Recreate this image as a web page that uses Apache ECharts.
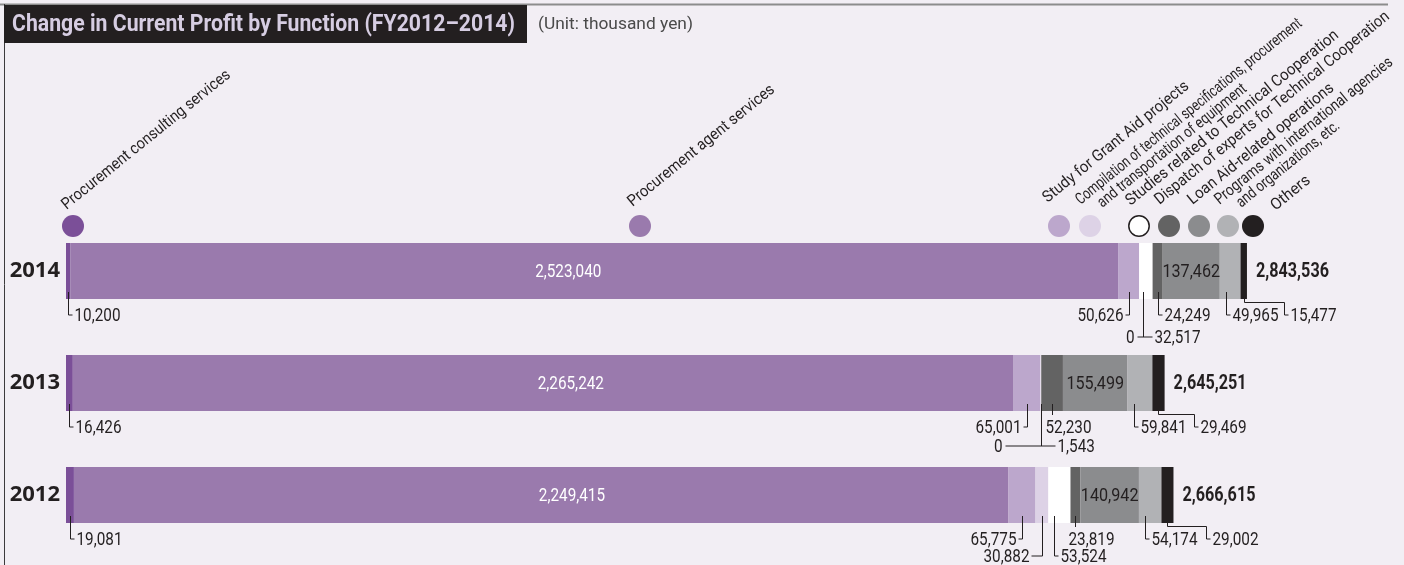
<!DOCTYPE html>
<html>
<head>
<meta charset="utf-8">
<title>Change in Current Profit by Function (FY2012–2014)</title>
<script src="https://cdn.jsdelivr.net/npm/echarts@6/dist/echarts.min.js"></script>
<style>
    html, body { margin: 0; padding: 0; background: #f2eef4; }
    #chart { width: 1404px; height: 565px; }
</style>
</head>
<body>
<div id="chart"></div>
<script>
    'use strict'

    /* Chart data (thousand yen), rows are 2014, 2013, 2012 */
    var years = ['2014', '2013', '2012'];
    var functions = [
        'Procurement consulting services',
        'Procurement agent services',
        'Study for Grant Aid projects',
        'Compilation of technical specifications, procurement and transportation of equipment',
        'Studies related to Technical Cooperation',
        'Dispatch of experts for Technical Cooperation',
        'Loan Aid-related operations',
        'Programs with international agencies and organizations, etc.',
        'Others'
    ];
    var consulting = [10200, 16426, 19081];
    var agent = [2523040, 2265242, 2249415];
    var grantStudy = [50626, 65001, 65775];
    var compilation = [0, 0, 30882];
    var tcStudies = [32517, 1543, 53524];
    var experts = [24249, 52230, 23819];
    var loanAid = [137462, 155499, 140942];
    var programs = [49965, 59841, 54174];
    var others = [15477, 29469, 29002];
    var totals = [2843536, 2645251, 2666615];

    var seriesValues = [consulting, agent, grantStudy, compilation, tcStudies, experts, loanAid, programs, others];
    var colors = ['#7b4f98', '#9a7aad', '#bca7cc', '#ddd2e6', '#ffffff', '#636363', '#8b8c8e', '#b1b2b5', '#231f20'];

    var INK = '#231f20';
    var FONT = "Roboto, 'Noto Sans', sans-serif";
    var BAR_H = 56;
    var TITLE = 'Change in Current Profit by Function (FY2012–2014)';
    var UNIT = '(Unit: thousand yen)';

    /* no condensed face is installed, so text is squeezed horizontally to the original's widths */
    var measureCtx = document.createElement('canvas').getContext('2d');
    function textWidth(str, font) {
        measureCtx.font = font;
        return measureCtx.measureText(str).width;
    }
    var NUM_FONT = '18px ' + FONT;
    var NUM_SX = 46 / textWidth('10,200', NUM_FONT);
    var TOTAL_FONT = 'bold 20px ' + FONT;
    var TOTAL_SX = 73 / textWidth('2,843,536', TOTAL_FONT);
    var LEG_FONT = '16px ' + FONT;
    var TITLE_FONT = 'bold 24px ' + FONT;
    var TITLE_SX = 503 / textWidth(TITLE, TITLE_FONT);
    var UNIT_FONT = '17px ' + FONT;
    var UNIT_SX = 155 / textWidth(UNIT, UNIT_FONT);
    var LEG_ANGLE = 39 * Math.PI / 180;

    /* legend labels, split where the original breaks lines, with each line's length */
    var legendLines = [
        ['Procurement consulting services'],
        ['Procurement agent services'],
        ['Study for Grant Aid projects'],
        ['Compilation of technical specifications, procurement', 'and transportation of equipment'],
        ['Studies related to Technical Cooperation'],
        ['Dispatch of experts for Technical Cooperation'],
        ['Loan Aid-related operations'],
        ['Programs with international agencies', 'and organizations, etc.'],
        ['Others']
    ];
    var legendLens = [[212], [184], [183], [286, 187], [269], [297], [183], [224, 128], [46]];
    var legendSpots = [
        { cx: 73, tx: 69, ty: 213 },
        { cx: 640, tx: 635, ty: 210 },
        { cx: 1059, tx: 1050, ty: 206 },
        { cx: 1090, tx: 1083, ty: 208 },
        { cx: 1139, tx: 1133, ty: 209 },
        { cx: 1169, tx: 1162, ty: 208 },
        { cx: 1199, tx: 1195, ty: 208 },
        { cx: 1228, tx: 1222, ty: 208 },
        { cx: 1253, tx: 1278, ty: 214 }
    ];

    /* leader-line callouts under the bars */
    var callouts = [
        { year: 0, fn: 0, kind: 'R' },
        { year: 0, fn: 2, kind: 'L' },
        { year: 0, fn: 4, kind: 'B', pair: 3, dy: 38, left: 6, right: 9 },
        { year: 0, fn: 5, kind: 'R' },
        { year: 0, fn: 7, kind: 'R' },
        { year: 0, fn: 8, kind: 'S', step: 40 },
        { year: 1, fn: 0, kind: 'R' },
        { year: 1, fn: 2, kind: 'L' },
        { year: 1, fn: 4, kind: 'B', pair: 3, dy: 35, left: 36, right: 14 },
        { year: 1, fn: 5, kind: 'T' },
        { year: 1, fn: 7, kind: 'R' },
        { year: 1, fn: 8, kind: 'S', step: 36 },
        { year: 2, fn: 0, kind: 'R' },
        { year: 2, fn: 2, kind: 'L' },
        { year: 2, fn: 3, kind: 'L', dy: 33, reach: 11 },
        { year: 2, fn: 4, kind: 'R', dy: 33 },
        { year: 2, fn: 5, kind: 'T' },
        { year: 2, fn: 7, kind: 'R' },
        { year: 2, fn: 8, kind: 'S', step: 39 }
    ];

    /* labels drawn on / beside the bars */
    var barTexts = [];
    years.forEach(function (y, i) {
        barTexts.push({ year: i, fn: 1, kind: 'fixed' });
        barTexts.push({ year: i, fn: 6, kind: 'center' });
        barTexts.push({ year: i, fn: 8, kind: 'total' });
    });

    function fmt(v) {
        return v.toLocaleString('en-US');
    }

    function startOf(y, fn) {
        var s = 0;
        for (var k = 0; k < fn; k++) s += seriesValues[k][y];
        return s;
    }

    function textEl(str, x, y, align, opt) {
        opt = opt || {};
        return {
            type: 'text',
            x: x, y: y,
            scaleX: opt.sx || NUM_SX,
            style: {
                text: str, x: 0, y: 0,
                font: opt.font || NUM_FONT,
                fill: opt.fill || INK,
                align: align, textAlign: align,
                verticalAlign: opt.va || 'middle', textVerticalAlign: opt.va || 'middle'
            }
        };
    }

    function lineEl(points) {
        return {
            type: 'polyline',
            shape: { points: points },
            style: { stroke: INK, lineWidth: 1, fill: null }
        };
    }

    function renderCallout(params, api) {
        var c = callouts[params.dataIndex];
        var p0 = api.coord([api.value(1), api.value(0)]);
        var p1 = api.coord([api.value(2), api.value(0)]);
        var w = p1[0] - p0[0];
        var bottom = Math.round(p0[1] + BAR_H / 2);
        var top = bottom - 7;
        var ly = c.dy ? bottom + c.dy : bottom + 16;
        var label = fmt(seriesValues[c.fn][c.year]);
        var reach = c.reach || 4;
        var x, items = [];

        if (c.kind === 'R') {
            x = Math.round(p0[0] + Math.min(w / 2, 6)) + 0.5;
            items.push(lineEl([[x, top], [x, ly], [x + reach, ly]]));
            items.push(textEl(label, x + reach + 2, ly + 1, 'left'));
        } else if (c.kind === 'L') {
            x = Math.round(p0[0] + w / 2) + 0.5;
            items.push(lineEl([[x, top], [x, ly], [x - reach, ly]]));
            items.push(textEl(label, x - reach - 2, ly + 1, 'right'));
        } else if (c.kind === 'T') {
            x = Math.round(p0[0] + w / 2) + 0.5;
            items.push(lineEl([[x, top], [x, bottom + 4]]));
            items.push(textEl(label, x - 7, ly + 1, 'left'));
        } else if (c.kind === 'B') {
            x = Math.round(p0[0] + Math.min(w / 2, 4)) + 0.5;
            items.push(lineEl([[x, top], [x, ly]]));
            items.push(lineEl([[x - c.left, ly], [x + c.right, ly]]));
            items.push(textEl(fmt(seriesValues[c.pair][c.year]), x - c.left - 3, ly + 1, 'right'));
            items.push(textEl(label, x + c.right + 2, ly + 1, 'left'));
        } else if (c.kind === 'S') {
            x = Math.round(p0[0] + w / 2) + 0.5;
            var sx = x + c.step;
            var ky = bottom + 3.5;
            items.push(lineEl([[x, bottom - 2], [x, ky], [sx, ky], [sx, ly], [sx + 4, ly]]));
            items.push(textEl(label, sx + 6, ly + 1, 'left'));
        }
        return { type: 'group', children: items };
    }

    function renderBarText(params, api) {
        var t = barTexts[params.dataIndex];
        var p0 = api.coord([api.value(1), api.value(0)]);
        var p1 = api.coord([api.value(2), api.value(0)]);
        var cy = p0[1] + 1;
        if (t.kind === 'fixed') {
            return textEl(fmt(seriesValues[t.fn][t.year]), p0[0] + 498, cy, 'center', { fill: '#ffffff' });
        }
        if (t.kind === 'center') {
            return textEl(fmt(seriesValues[t.fn][t.year]), (p0[0] + p1[0]) / 2, cy, 'center', { font: '19px ' + FONT });
        }
        return textEl(fmt(totals[t.year]), p1[0] + 9, cy, 'left', { font: TOTAL_FONT, sx: TOTAL_SX });
    }

    /* legend: dots with slanted names */
    var legendGraphics = [];
    legendLines.forEach(function (lines, i) {
        var spot = legendSpots[i];
        legendGraphics.push({
            type: 'circle',
            shape: { cx: spot.cx, cy: 226, r: i === 4 ? 10.2 : 11 },
            style: { fill: colors[i], stroke: i === 4 ? INK : null, lineWidth: 1.5 }
        });
        legendGraphics.push({
            type: 'group',
            x: spot.tx,
            y: spot.ty,
            rotation: LEG_ANGLE,
            children: lines.map(function (ln, j) {
                return {
                    type: 'text',
                    x: j * 15,
                    y: j * 16,
                    scaleX: legendLens[i][j] / textWidth(ln, LEG_FONT),
                    style: {
                        text: ln, x: 0, y: 0, font: LEG_FONT, fill: INK,
                        align: 'left', textAlign: 'left',
                        verticalAlign: 'bottom', textVerticalAlign: 'bottom'
                    }
                };
            })
        });
    });

    var series = seriesValues.map(function (vals, i) {
        return {
            name: functions[i],
            type: 'bar',
            stack: 'total',
            barWidth: BAR_H,
            silent: true,
            itemStyle: { color: colors[i] },
            data: vals
        };
    });

    series.push({
        type: 'custom',
        name: 'barTexts',
        silent: true,
        clip: false,
        z: 5,
        renderItem: renderBarText,
        encode: { x: [1, 2], y: 0 },
        data: barTexts.map(function (t) {
            var s = startOf(t.year, t.fn);
            return [t.year, s, s + seriesValues[t.fn][t.year]];
        })
    });

    series.push({
        type: 'custom',
        name: 'callouts',
        silent: true,
        clip: false,
        z: 5,
        renderItem: renderCallout,
        encode: { x: [1, 2], y: 0 },
        data: callouts.map(function (c) {
            var s = startOf(c.year, c.fn);
            return [c.year, s, s + seriesValues[c.fn][c.year]];
        })
    });

    var chart = echarts.init(document.getElementById('chart'), null, { renderer: 'canvas' });

    chart.setOption({
        backgroundColor: '#f2eef4',
        animation: false,
        grid: {
            left: 66, right: 9, top: 215, height: 336,
            containLabel: false, outerBoundsMode: 'none'
        },
        xAxis: {
            type: 'value', min: 0, max: 3200000, show: false
        },
        yAxis: {
            type: 'category',
            data: years,
            inverse: true,
            axisLine: { show: false },
            axisTick: { show: false },
            splitLine: { show: false },
            axisLabel: {
                margin: 6, color: INK, fontSize: 22, fontWeight: 'bold',
                fontFamily: "'Open Sans', 'Noto Sans', sans-serif"
            }
        },
        graphic: [
            { type: 'line', shape: { x1: 0, y1: 4.5, x2: 1388, y2: 4.5 }, style: { stroke: '#8c8c8c', lineWidth: 2 } },
            { type: 'line', shape: { x1: 4.5, y1: 4, x2: 4.5, y2: 565 }, style: { stroke: '#3c3a3c', lineWidth: 1 } },
            { type: 'rect', shape: { x: 4, y: 5, width: 523, height: 38 }, style: { fill: INK } },
            {
                type: 'text', x: 12, y: 25, scaleX: TITLE_SX,
                style: {
                    text: TITLE, x: 0, y: 0,
                    font: TITLE_FONT, fill: '#d6cde2',
                    align: 'left', textAlign: 'left', verticalAlign: 'middle', textVerticalAlign: 'middle'
                }
            },
            {
                type: 'text', x: 538, y: 25, scaleX: UNIT_SX,
                style: {
                    text: UNIT, x: 0, y: 0,
                    font: UNIT_FONT, fill: '#4a4a4a',
                    align: 'left', textAlign: 'left', verticalAlign: 'middle', textVerticalAlign: 'middle'
                }
            }
        ].concat(legendGraphics),
        series: series
    });
</script>
</body>
</html>
